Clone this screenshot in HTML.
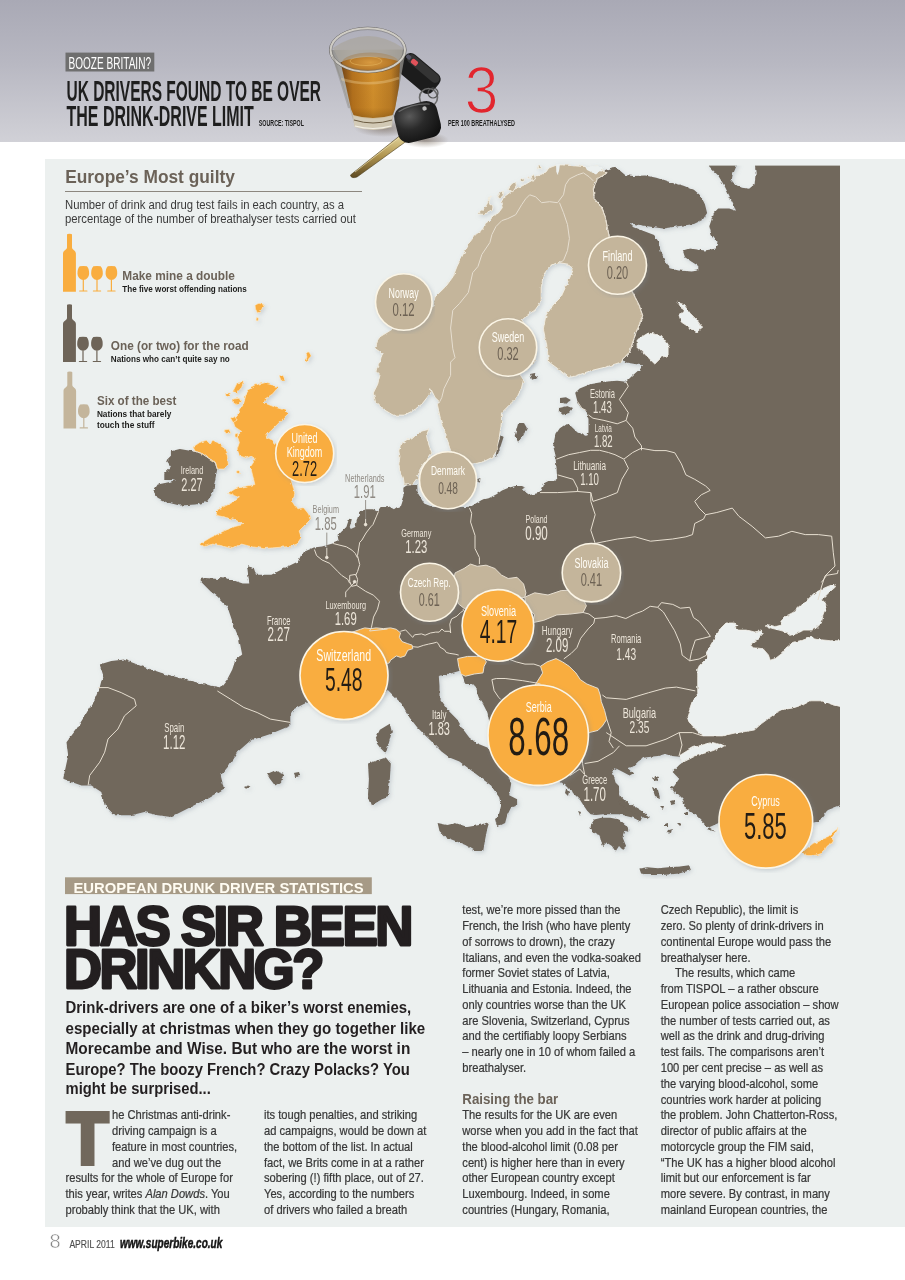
<!DOCTYPE html>
<html><head><meta charset="utf-8"><title>Has sir been drinkng?</title>
<style>
html,body{margin:0;padding:0;background:#ffffff;}
body{width:905px;height:1280px;position:relative;overflow:hidden;}
#hdr{position:absolute;left:0;top:0;width:905px;height:142px;background:linear-gradient(#a9a9b5 0%,#b8b8c2 45%,#d1d1d7 100%);}
#panel{position:absolute;left:45px;top:159px;width:860px;height:1068px;background:#ecf0ef;}
svg{position:absolute;left:0;top:0;}
text{font-family:"Liberation Sans",Arial,sans-serif;}
</style></head><body>
<div id="hdr"></div>
<div id="panel"></div>
<svg width="905" height="1280" viewBox="0 0 905 1280">
<rect x="65.5" y="52.6" width="88.8" height="18.9" fill="#6f6f6f"/>
<text x="68.5" y="68.6" font-size="17.4" textLength="82.5" lengthAdjust="spacingAndGlyphs" fill="#ffffff" >BOOZE BRITAIN?</text>
<text x="66.5" y="101.3" font-size="30.4" font-weight="bold" textLength="254.5" lengthAdjust="spacingAndGlyphs" fill="#1e1e1e" >UK DRIVERS FOUND TO BE OVER</text>
<text x="66.5" y="125.5" font-size="30.4" font-weight="bold" textLength="187.3" lengthAdjust="spacingAndGlyphs" fill="#1e1e1e" >THE DRINK-DRIVE LIMIT</text>
<text x="258.8" y="125.5" font-size="9.6" font-weight="bold" textLength="45.2" lengthAdjust="spacingAndGlyphs" fill="#1e1e1e" >SOURCE: TISPOL</text>
<text x="448" y="125.8" font-size="9.6" font-weight="bold" textLength="67" lengthAdjust="spacingAndGlyphs" fill="#1e1e1e" >PER 100 BREATHALYSED</text>
<defs><linearGradient id="hg" gradientUnits="userSpaceOnUse" x1="0" y1="-113.7" x2="0" y2="28.3"><stop offset="0" stop-color="#a9a9b5"/><stop offset="0.45" stop-color="#b8b8c2"/><stop offset="1" stop-color="#d1d1d7"/></linearGradient></defs>
<text transform="translate(464.8,113.4) scale(0.9,1)" font-size="67.2" fill="#e2262e" stroke="url(#hg)" stroke-width="1.5">3</text>
<g id="map">
<clipPath id="mclip"><rect x="45" y="159" width="795" height="720"/></clipPath>
<filter id="lsh" x="-5%" y="-5%" width="110%" height="110%"><feDropShadow dx="1.6" dy="1.8" stdDeviation="2.2" flood-color="#7f8c99" flood-opacity="0.33"/></filter>
<filter id="rough" x="-2%" y="-2%" width="104%" height="104%"><feTurbulence type="fractalNoise" baseFrequency="0.22" numOctaves="2" seed="3" result="n"/><feDisplacementMap in="SourceGraphic" in2="n" scale="3.2" xChannelSelector="R" yChannelSelector="G" result="d"/><feDropShadow in="d" dx="1.6" dy="1.8" stdDeviation="2.2" flood-color="#7f8c99" flood-opacity="0.33"/></filter>
<g clip-path="url(#mclip)">
<g filter="url(#rough)">
<polygon points="200.7,579.1 205.1,578.0 218.4,579.1 220.6,576.9 229.4,579.1 242.7,583.5 249.3,583.5 247.1,565.9 253.8,568.1 256.0,574.7 271.4,574.7 280.3,570.3 284.7,568.1 298.0,561.4 302.4,552.6 313.9,547.5 322.0,546.5 332.6,543.5 338.7,541.2 337.6,535.7 342.0,531.3 346.4,526.9 348.6,520.2 351.9,519.1 349.7,526.9 350.8,529.1 355.2,526.9 357.5,518.0 359.7,511.4 366.3,509.2 372.9,509.2 377.3,511.4 380.7,507.0 388.4,505.9 393.9,509.2 397.2,507.0 400.0,505.9 401.4,501.8 403.4,495.8 403.4,487.8 407.3,484.9 417.3,484.9 417.5,492.5 424.1,503.5 432.9,506.9 445.0,507.0 460.0,507.0 466.0,507.0 471.0,506.5 476.6,503.1 482.1,499.8 488.7,498.2 496.5,494.3 502.0,490.4 508.6,487.7 515.2,486.0 521.9,486.0 525.7,487.7 523.0,489.3 526.3,492.7 529.6,494.9 535.1,493.8 539.6,492.7 541.8,489.9 544.0,483.3 548.4,481.0 553.9,481.0 557.2,478.8 556.5,468.0 555.4,454.7 553.1,445.9 555.4,434.8 559.8,428.2 566.4,423.8 570.8,426.0 577.5,432.6 586.3,435.9 588.5,432.6 588.5,419.3 586.3,410.5 581.9,408.3 577.5,401.7 575.2,392.8 579.7,388.4 590.7,384.0 604.0,381.8 617.2,380.7 626.1,381.8 632.0,376.0 640.0,369.0 644.0,365.5 635.0,364.0 626.0,362.5 622.9,358.9 629.5,352.2 636.1,332.4 642.7,315.8 639.4,305.8 632.8,292.6 625.0,285.0 609.2,236.5 607.2,226.6 605.2,216.7 601.3,206.7 594.3,198.8 593.3,188.8 597.3,178.9 605.2,169.9 613.2,166.9 619.2,169.9 625.1,174.9 633.1,175.9 645.2,175.5 656.3,177.7 669.6,182.1 682.8,185.4 693.9,189.8 700.5,195.4 704.9,204.2 707.1,213.0 702.7,219.7 693.9,224.1 678.4,226.3 662.9,228.5 647.5,226.3 634.2,224.1 629.8,223.0 632.0,226.3 643.0,230.7 654.1,235.1 658.5,241.8 660.7,250.6 665.1,259.4 669.6,268.3 678.4,270.5 691.7,271.6 698.3,270.5 698.3,266.1 691.7,261.7 685.0,257.2 682.8,250.6 689.4,248.4 704.9,250.6 716.0,248.4 718.2,244.0 711.5,235.1 709.3,226.3 713.8,213.0 718.2,208.6 729.2,208.6 735.9,210.8 733.6,204.2 729.2,195.4 724.8,186.5 718.2,175.5 709.3,166.6 707.1,162.0 738.1,162.0 732.5,175.5 731.4,182.1 740.3,187.6 749.1,188.7 754.6,184.3 755.7,173.3 754.6,162.0 846.0,162.0 846.0,803.0 828.0,810.0 826.4,811.5 821.8,817.7 818.7,821.6 813.3,822.4 808.0,822.5 790.0,822.0 770.0,825.0 745.0,822.0 725.0,820.0 712.0,826.0 705.7,828.7 715.7,831.7 705.7,825.0 695.8,815.1 685.8,808.5 682.5,798.5 672.6,788.6 679.2,778.7 672.6,772.0 679.2,765.0 682.5,762.4 680.0,756.8 672.0,755.9 665.0,754.1 657.9,755.9 650.8,756.8 643.8,757.7 638.5,761.2 633.2,766.5 627.9,768.3 633.2,773.6 629.6,775.4 622.5,771.8 615.5,768.3 612.0,770.1 613.7,775.4 615.5,782.4 619.0,786.0 619.0,791.3 620.8,796.6 624.3,800.1 629.6,805.4 636.7,810.7 642.0,817.8 640.2,821.3 633.2,817.8 626.1,816.0 619.0,814.3 611.9,814.3 603.1,814.3 596.0,815.1 590.7,814.3 587.2,810.7 583.6,805.4 580.1,800.1 576.6,796.6 573.0,793.0 571.3,789.5 567.7,787.7 564.2,784.2 559.8,781.5 552.0,776.0 540.0,768.0 525.0,760.0 510.0,752.0 498.0,747.0 491.9,745.9 490.8,737.0 489.7,723.8 487.5,712.7 483.0,703.9 478.6,697.2 476.4,688.4 472.0,684.0 465.4,684.0 463.1,677.3 459.8,670.7 452.1,672.9 443.3,675.1 438.8,676.2 439.5,686.0 439.5,697.9 449.5,711.8 457.4,719.8 463.4,729.7 469.4,737.7 477.3,743.6 487.3,747.6 493.0,754.0 499.2,763.5 507.2,773.4 511.2,783.4 509.2,795.3 517.1,799.3 517.1,805.3 511.2,807.3 507.2,815.2 505.1,823.1 497.1,827.1 495.1,819.2 499.2,813.2 501.2,805.3 499.2,797.3 495.1,791.4 491.1,785.4 483.2,779.4 475.3,773.4 467.4,767.5 459.4,761.5 449.5,757.5 441.5,751.6 433.6,743.6 425.6,735.7 417.6,727.7 409.7,717.8 401.7,703.8 393.8,695.9 387.8,689.9 375.0,700.0 360.0,705.0 340.0,708.0 320.0,706.0 306.8,702.5 293.6,709.2 290.3,715.8 290.3,725.7 270.4,734.0 250.5,740.6 237.2,752.2 229.0,765.5 220.7,775.4 224.0,788.7 207.4,798.6 194.2,805.3 180.9,811.9 171.0,816.9 157.7,815.2 144.4,811.9 131.2,815.2 114.6,815.2 104.7,805.3 101.3,792.0 91.4,785.4 81.5,785.4 71.5,782.1 63.2,778.8 68.2,755.6 66.5,742.3 76.5,729.0 84.8,715.8 94.7,699.2 99.7,687.6 103.0,674.4 99.7,664.4 111.3,661.1 124.5,659.4 141.1,666.1 161.0,672.7 184.2,679.3 204.1,684.3 220.7,687.6 227.3,679.3 232.3,669.4 235.6,659.4 242.2,654.5 238.9,637.9 233.9,626.3 230.6,616.3 227.3,606.4 217.4,596.5 210.7,591.5 200.8,581.5" fill="#71675b" />
<polygon points="702.4,735.9 695.8,729.3 689.0,722.0 687.1,716.8 690.6,706.1 692.4,700.8 697.7,693.8 697.7,676.1 697.7,669.0 699.4,665.5 706.5,658.4 706.5,651.3 710.1,646.0 715.4,637.2 720.7,628.3 726.0,623.0 733.0,623.0 738.3,624.8 734.8,626.6 738.3,630.1 747.2,630.1 754.3,631.9 761.3,631.0 763.1,633.6 757.8,639.0 750.7,644.3 754.3,647.8 763.0,648.7 768.4,654.9 770.2,660.2 775.5,658.4 782.5,653.1 786.1,647.8 793.2,642.5 803.8,639.8 810.8,637.2 812.6,637.2 814.4,639.0 821.4,639.8 830.3,640.7 846.0,640.7 846.0,707.9 832.0,704.4 821.4,700.8 810.8,700.8 803.8,704.4 793.2,707.9 782.5,709.7 775.5,713.2 768.4,718.5 761.3,723.8 754.3,730.0 745.5,731.5 735.0,733.0 722.3,735.9" fill="#ecf0ef" stroke="#f4f1ea" stroke-width="0.8"/>
<polygon points="782.5,624.8 780.8,621.3 786.1,616.0 793.2,612.4 800.2,605.4 807.3,600.1 814.4,593.0 825.0,587.7 833.8,584.1 835.6,586.8 828.5,593.0 821.4,600.1 826.7,605.4 823.2,614.2 821.4,623.0 816.1,628.3 810.8,630.1 803.8,630.1 796.7,633.6 789.6,635.4 786.1,631.9 779.0,630.1 771.9,628.3 766.6,626.6 768.4,624.8 775.5,626.6" fill="#ecf0ef" stroke="#f4f1ea" stroke-width="0.8"/>
<polygon points="679.2,755.8 692.5,747.5 712.4,742.5 725.6,745.8 712.4,750.8 695.8,755.8 682.5,762.4" fill="#ecf0ef" stroke="#f4f1ea" stroke-width="0.8"/>
<polygon points="637.1,339.8 648.2,333.1 661.4,335.4 668.1,344.2 668.1,355.2 661.4,357.5 654.8,364.1 648.2,357.5 641.5,350.8 637.1,346.4" fill="#ecf0ef" stroke="#f4f1ea" stroke-width="0.8"/>
<polygon points="676.9,302.2 683.5,304.4 690.2,313.3 696.8,319.9 702.3,327.6 696.8,332.0 688.0,326.5 681.3,322.1 679.1,315.5 683.5,311.0 679.1,304.4" fill="#ecf0ef" stroke="#f4f1ea" stroke-width="0.8"/>
<polygon points="554.1,166.0 557.5,164.9 563.5,164.9 575.4,165.9 589.3,166.9 597.3,165.9 603.0,170.0 607.2,172.9 597.3,178.9 593.3,188.8 594.3,198.8 601.3,206.7 605.2,216.7 607.2,226.6 609.2,236.5 612.0,250.0 620.0,270.0 628.0,285.0 632.8,292.6 639.4,305.8 642.7,315.8 636.1,332.4 629.5,352.2 622.9,358.9 621.7,361.9 608.4,366.3 590.7,370.7 575.2,376.2 568.6,377.3 557.6,368.5 548.7,361.9 546.5,344.2 543.3,329.0 546.0,315.0 553.0,305.0 561.0,297.0 566.5,285.0 573.1,270.0 569.4,264.4 557.5,262.4 549.6,266.4 543.4,274.9 541.2,288.2 541.2,301.4 535.0,310.0 528.0,314.7 522.0,320.0 535.0,340.0 536.0,355.0 534.6,362.1 528.0,368.7 519.1,373.1 523.5,379.8 521.3,388.6 516.9,397.5 512.5,401.9 508.1,406.3 501.4,412.9 501.4,424.0 499.2,437.2 497.0,450.5 492.6,457.1 483.8,461.5 474.9,463.8 465.0,464.0 456.0,458.0 450.6,450.5 448.4,443.9 446.2,435.0 441.8,424.0 439.6,415.1 437.3,404.1 439.6,401.9 435.1,397.5 430.7,388.6 430.7,393.0 421.9,404.1 413.0,410.7 404.2,415.1 393.1,415.1 382.1,408.5 375.5,401.9 373.3,393.0 377.7,384.2 379.9,375.4 375.5,370.9 379.9,362.1 382.1,353.3 375.5,348.8 377.7,340.0 380.0,336.8 391.0,330.0 405.0,320.0 420.0,312.0 433.0,305.9 435.0,297.0 446.2,286.0 452.8,277.0 457.2,266.0 463.9,252.8 468.3,244.0 471.8,239.6 475.8,234.3 479.8,231.6 483.8,229.0 485.1,223.7 490.4,219.7 493.0,215.7 498.4,213.0 502.3,207.7 501.0,202.4 503.7,197.1 509.0,193.2 514.3,189.2 520.9,186.5 526.2,183.9 532.8,179.9 535.5,175.9 540.8,174.6 546.1,171.9 548.8,168.0" fill="#c4b59b" stroke="#f3eee2" stroke-width="0.9" stroke-linejoin="round"/>
<polygon points="477.8,213.7 482.4,210.4 486.4,205.1 489.1,199.8 490.4,195.8 489.1,203.8 493.0,206.4 492.4,210.4 487.7,213.0 482.4,214.4" fill="#c4b59b" stroke="#f3eee2" stroke-width="0.9" stroke-linejoin="round"/>
<polygon points="497.7,197.1 501.0,191.8 503.7,191.2 503.0,195.8 499.7,198.5" fill="#c4b59b" stroke="#f3eee2" stroke-width="0.9" stroke-linejoin="round"/>
<polygon points="507.6,189.2 511.6,183.9 515.6,181.2 516.3,186.5 512.9,191.8" fill="#c4b59b" stroke="#f3eee2" stroke-width="0.9" stroke-linejoin="round"/>
<polygon points="520.0,180.0 524.0,178.5 524.5,181.0 521.0,182.0" fill="#c4b59b" stroke="#f3eee2" stroke-width="0.9" stroke-linejoin="round"/>
<polygon points="531.5,176.0 534.0,174.6 535.5,179.0 532.5,181.2" fill="#c4b59b" stroke="#f3eee2" stroke-width="0.9" stroke-linejoin="round"/>
<polygon points="536.8,166.6 540.0,166.0 542.1,168.0 538.0,168.6" fill="#c4b59b" stroke="#f3eee2" stroke-width="0.9" stroke-linejoin="round"/>
<polygon points="527.0,177.5 529.0,176.5 529.5,178.5" fill="#c4b59b" stroke="#f3eee2" stroke-width="0.9" stroke-linejoin="round"/>
<polygon points="556.0,164.0 560.0,164.0 559.0,171.0 557.5,175.0 556.3,171.5" fill="#ecf0ef" />
<polygon points="585.0,166.2 598.0,166.0 604.0,167.2 601.0,170.0 596.0,174.5 592.0,172.5 587.0,170.0" fill="#ecf0ef" />
<polygon points="401.0,443.2 406.6,439.9 412.1,438.8 417.6,433.3 422.0,431.0 428.7,429.4 426.5,435.5 427.6,441.0 429.8,447.6 432.0,453.1 427.6,458.7 423.1,464.2 419.8,469.7 417.6,477.5 414.3,481.9 412.1,484.8 404.4,485.0 403.3,477.5 399.9,470.8 398.8,464.2 399.9,456.5 398.8,450.9" fill="#c4b59b" stroke="#f3eee2" stroke-width="0.9" stroke-linejoin="round"/>
<polygon points="432.0,470.0 445.0,465.0 460.0,468.0 470.0,478.0 466.0,492.0 450.0,496.0 436.0,490.0" fill="#c4b59b" stroke="#f3eee2" stroke-width="0.9" stroke-linejoin="round"/>
<polygon points="170.9,451.3 179.8,449.1 193.0,451.3 201.9,453.5 208.5,458.0 215.1,462.4 217.3,469.0 215.1,480.1 212.9,493.3 206.3,502.2 195.2,504.4 179.8,505.5 166.5,502.2 157.7,497.7 153.3,491.1 157.7,484.5 168.7,482.3 175.4,480.1 164.3,480.1 164.3,473.4 170.9,466.8 166.5,460.2 170.9,455.7" fill="#71675b" />
<polygon points="375.9,737.7 379.9,729.7 389.8,723.7 391.8,731.7 389.8,739.6 385.8,753.5 379.9,747.6 376.9,743.6" fill="#71675b" />
<polygon points="368.0,763.5 385.8,757.5 390.8,763.5 389.8,779.4 387.8,797.3 381.9,799.3 371.9,805.3 368.0,795.3 368.9,779.4" fill="#71675b" />
<polygon points="437.6,823.1 447.5,825.1 455.4,823.1 467.4,827.1 479.3,825.1 489.2,822.1 487.2,829.1 485.2,839.0 483.2,851.0 475.3,851.0 465.4,845.0 455.4,841.0 445.5,837.0 439.5,831.1" fill="#71675b" />
<polygon points="267.0,774.0 275.0,770.5 283.6,774.0 281.0,782.0 275.0,785.4 270.0,779.0" fill="#71675b" />
<polygon points="293.6,773.0 299.0,772.0 300.2,776.0 295.0,777.0" fill="#71675b" />
<polygon points="243.9,787.0 248.0,785.4 250.5,786.5 246.0,788.7" fill="#71675b" />
<polygon points="590.7,824.9 594.3,819.6 601.3,817.8 610.2,817.8 619.0,819.6 626.1,824.9 629.6,830.2 624.3,831.9 622.5,837.2 626.1,846.1 622.5,849.6 619.0,846.1 615.5,851.4 611.9,846.1 606.6,842.5 603.1,846.1 601.3,842.5 599.6,835.5 594.3,831.9 590.7,828.4" fill="#71675b" />
<polygon points="620.0,800.0 628.0,803.0 640.0,810.0 650.0,817.0 647.0,819.0 636.0,814.0 625.0,808.0 619.0,803.0" fill="#71675b" />
<polygon points="655.0,776.0 659.0,777.0 658.0,780.0 654.0,779.0" fill="#71675b" />
<polygon points="671.0,786.0 675.0,787.0 674.0,790.0 670.0,789.0" fill="#71675b" />
<polygon points="668.0,830.0 672.0,829.0 671.0,833.0 667.0,832.0" fill="#71675b" />
<polygon points="677.0,823.0 681.0,823.0 680.0,826.0" fill="#71675b" />
<polygon points="660.0,806.0 664.0,806.0 663.0,809.0" fill="#71675b" />
<polygon points="639.4,868.5 647.3,867.3 657.9,868.2 668.5,867.3 680.0,866.4 689.2,865.2 690.8,870.1 679.2,873.5 662.6,875.1 649.4,875.1 641.1,873.5" fill="#71675b" />
<polygon points="518.0,424.0 524.0,422.9 526.9,428.0 523.0,436.0 518.0,441.7 514.7,436.0" fill="#71675b" />
<polygon points="500.5,435.0 503.6,437.0 500.0,448.0 497.0,457.1 495.9,454.0" fill="#71675b" />
<polygon points="477.1,479.0 480.4,478.0 480.0,482.5 477.5,482.0" fill="#71675b" />
<polygon points="560.0,398.0 566.0,397.2 570.8,400.0 566.0,403.9 560.0,402.0" fill="#71675b" />
<polygon points="559.0,408.0 568.0,406.1 573.0,408.0 569.0,413.0 562.0,414.9 558.7,412.0" fill="#71675b" />
<polygon points="530.0,374.0 535.0,373.0 536.8,378.0 532.0,379.8" fill="#71675b" />
<polygon points="652.0,787.0 658.0,790.0 660.0,798.0 655.0,796.0" fill="#71675b" />
<polygon points="670.0,801.0 674.0,800.0 675.0,804.0 671.0,805.0" fill="#71675b" />
<polygon points="684.0,812.0 688.0,811.0 688.0,815.0 684.0,815.0" fill="#71675b" />
<polygon points="664.0,824.0 668.0,823.0 668.0,827.0 664.0,827.0" fill="#71675b" />
<polygon points="672.0,789.0 676.0,790.0 675.0,793.0" fill="#71675b" />
<polygon points="604.0,788.0 608.0,789.0 607.0,793.0" fill="#71675b" />
<polygon points="652.0,778.0 656.0,778.0 655.0,781.0" fill="#71675b" />
<polygon points="566.0,789.0 569.0,792.0 568.0,796.0 565.0,793.0" fill="#71675b" />
<polygon points="578.0,811.0 581.0,812.0 580.0,815.0" fill="#71675b" />
<polygon points="254.9,385.0 263.8,382.8 272.6,385.0 278.1,387.2 272.6,393.9 266.0,398.3 263.8,402.7 274.8,407.1 285.9,410.4 288.1,413.8 281.4,420.4 274.8,427.0 268.2,433.6 266.0,437.0 272.6,440.3 277.0,444.7 281.4,451.3 285.9,460.2 288.1,471.2 292.5,484.5 294.7,493.3 292.5,502.2 296.9,508.8 303.5,507.7 308.0,513.2 310.2,519.8 303.5,526.5 299.1,530.9 301.3,537.5 296.9,544.1 290.3,546.4 277.0,547.5 263.8,548.6 250.5,546.4 241.7,544.1 232.8,548.6 224.0,546.4 212.9,544.1 204.1,546.4 199.7,544.1 210.7,537.5 224.0,530.9 235.0,526.5 243.9,524.3 235.0,519.8 226.2,517.6 217.3,515.4 215.1,511.0 224.0,506.6 232.8,502.2 239.4,497.7 228.4,493.3 235.0,488.9 243.9,486.7 254.9,484.5 252.7,475.6 250.5,466.8 254.9,460.2 252.7,455.7 246.1,458.0 239.4,455.7 237.2,449.1 239.4,442.5 237.2,435.9 241.7,431.4 235.0,427.0 232.8,420.4 237.2,416.0 239.4,409.3 243.9,402.7 246.1,393.9 250.5,387.2" fill="#f9ad3f" stroke="#fde7c0" stroke-width="0.7" stroke-linejoin="round"/>
<polygon points="193.0,446.9 199.7,442.5 206.3,440.3 210.7,444.7 212.9,440.3 217.3,442.5 224.0,446.9 227.3,455.7 228.4,464.6 224.0,469.0 217.3,469.0 215.1,462.4 208.5,458.0 201.9,453.5 195.2,451.3" fill="#f9ad3f" stroke="#fde7c0" stroke-width="0.7" stroke-linejoin="round"/>
<polygon points="255.0,305.0 259.0,303.3 263.8,304.5 261.0,311.0 257.5,313.0 255.5,309.0" fill="#f9ad3f" stroke="#fde7c0" stroke-width="0.7" stroke-linejoin="round"/>
<polygon points="256.5,317.5 258.5,318.0 258.0,321.0 256.0,320.5" fill="#f9ad3f" stroke="#fde7c0" stroke-width="0.7" stroke-linejoin="round"/>
<polygon points="306.0,352.5 309.0,351.9 311.3,356.0 308.5,359.0 307.5,362.9 305.7,360.5 307.0,357.0" fill="#f9ad3f" stroke="#fde7c0" stroke-width="0.7" stroke-linejoin="round"/>
<polygon points="279.2,375.5 283.0,375.5 285.0,379.5 281.0,380.5" fill="#f9ad3f" stroke="#fde7c0" stroke-width="0.7" stroke-linejoin="round"/>
<polygon points="232.8,391.7 237.2,382.8 243.9,381.7 241.7,387.2 237.2,392.8" fill="#f9ad3f" stroke="#fde7c0" stroke-width="0.7" stroke-linejoin="round"/>
<polygon points="225.5,393.0 229.5,393.0 229.0,396.5 226.0,396.5" fill="#f9ad3f" stroke="#fde7c0" stroke-width="0.7" stroke-linejoin="round"/>
<polygon points="233.0,399.0 239.0,398.3 241.7,402.0 237.0,404.9 233.5,403.0" fill="#f9ad3f" stroke="#fde7c0" stroke-width="0.7" stroke-linejoin="round"/>
<polygon points="230.6,418.0 234.0,416.0 237.2,420.0 233.0,422.6" fill="#f9ad3f" stroke="#fde7c0" stroke-width="0.7" stroke-linejoin="round"/>
<polygon points="224.0,430.0 229.0,429.2 230.6,433.0 226.0,433.6" fill="#f9ad3f" stroke="#fde7c0" stroke-width="0.7" stroke-linejoin="round"/>
<polygon points="235.0,434.0 238.0,433.0 237.5,437.5 235.0,437.0" fill="#f9ad3f" stroke="#fde7c0" stroke-width="0.7" stroke-linejoin="round"/>
<polygon points="236.5,470.0 239.5,469.5 239.5,473.5 236.5,473.0" fill="#f9ad3f" stroke="#fde7c0" stroke-width="0.7" stroke-linejoin="round"/>
<polygon points="802.4,852.2 805.5,849.4 809.4,846.3 813.3,843.3 817.1,841.7 821.8,839.4 826.4,837.8 829.5,835.5 832.6,832.4 835.7,830.1 838.0,828.6 836.5,831.7 834.1,834.7 831.8,837.8 833.4,840.9 831.8,843.3 828.7,844.8 826.4,847.1 824.9,850.2 821.8,853.3 817.1,854.9 812.5,855.6 807.8,855.6 804.7,854.9" fill="#f9ad3f" stroke="#fde7c0" stroke-width="0.7" stroke-linejoin="round"/>
</g>
<rect x="700" y="158" width="141" height="7.6" fill="#ecf0ef"/>
<polygon points="455.1,572.9 464.0,568.5 470.6,564.1 477.2,566.3 486.1,565.2 494.9,568.5 501.5,575.1 508.2,578.5 517.0,577.3 523.6,584.0 525.9,592.8 524.8,597.2 517.0,599.4 508.2,601.7 499.3,603.9 490.5,606.1 479.4,603.9 472.8,608.3 464.0,608.3 458.5,603.9 456.2,597.2 452.9,584.0" fill="#c4b59b" />
<polygon points="524.8,597.2 534.7,592.8 548.0,595.0 561.2,590.6 575.0,590.0 583.1,599.2 586.4,605.8 583.1,612.5 569.8,614.1 556.8,614.9 543.5,620.4 532.5,622.7 534.7,614.9 525.9,605.0" fill="#c4b59b" />
<polygon points="360.4,629.3 364.7,627.9 370.5,628.6 376.2,627.9 383.4,628.6 390.6,627.9 396.3,629.3 400.6,632.9 399.2,637.2 402.1,641.6 407.8,643.7 412.1,645.1 412.8,648.7 407.8,650.2 405.0,655.9 400.6,657.4 396.3,655.9 390.6,660.2 389.1,663.1 375.0,665.0 360.0,662.0 345.0,660.0 335.0,650.0 340.0,640.0 350.0,633.0" fill="#f9ad3f" />
<polygon points="457.6,658.6 467.6,656.4 476.4,656.4 483.0,656.4 486.4,661.9 484.1,666.3 483.0,672.9 474.2,674.0 465.4,676.2 460.9,674.0 458.7,666.3" fill="#f9ad3f" />
<polygon points="540.5,666.3 547.1,661.9 556.0,658.6 562.6,661.9 569.2,666.3 575.9,672.9 580.3,679.6 586.9,684.0 598.0,688.4 600.2,695.0 601.3,701.7 604.6,710.5 606.8,719.3 602.4,726.0 598.0,730.4 589.1,732.6 584.7,723.8 570.0,735.0 550.0,740.0 530.0,725.0 528.0,700.0 535.0,685.0 542.7,672.9" fill="#f9ad3f" />
<polyline points="217.4,691.0 230.6,699.2 243.9,707.5 257.1,712.5 270.4,719.1 290.3,722.4" fill="none" stroke="#e6ded0" stroke-width="1.0" stroke-linejoin="round"/>
<polyline points="98.0,687.6 108.0,687.6 121.2,692.6 134.5,699.2 136.2,705.8 124.5,715.8 117.9,729.0 108.0,739.0 104.7,752.2 99.7,762.2 94.7,768.8 89.7,775.4 88.1,785.4" fill="none" stroke="#e6ded0" stroke-width="1.0" stroke-linejoin="round"/>
<polyline points="314.4,549.5 316.6,555.6 322.1,560.0 329.8,563.4 337.7,571.4 341.7,575.4 347.7,579.3 349.7,583.3" fill="none" stroke="#e6ded0" stroke-width="1.0" stroke-linejoin="round"/>
<polyline points="333.1,543.5 346.4,546.8 351.9,550.1 355.2,553.4 357.5,557.8" fill="none" stroke="#e6ded0" stroke-width="1.0" stroke-linejoin="round"/>
<polyline points="378.5,511.4 376.2,516.9 372.9,524.7 370.7,526.9 366.0,533.0 361.9,540.1 359.7,542.4 358.6,549.0 357.5,555.6 359.7,564.5 357.6,571.4 355.6,575.4" fill="none" stroke="#e6ded0" stroke-width="1.0" stroke-linejoin="round"/>
<polyline points="349.7,575.4 355.6,574.4 357.6,579.3 356.6,585.3 351.7,586.3 349.7,581.3 349.7,575.4" fill="none" stroke="#e6ded0" stroke-width="1.0" stroke-linejoin="round"/>
<polyline points="356.6,585.3 365.6,591.3 373.5,595.2 379.5,601.2 377.5,609.2 373.5,617.1 371.5,627.1 369.6,631.0 387.5,629.0" fill="none" stroke="#e6ded0" stroke-width="1.0" stroke-linejoin="round"/>
<polyline points="469.5,508.0 471.7,513.3 470.6,522.1 475.0,535.4 475.0,548.6 479.4,557.5 479.4,564.1" fill="none" stroke="#e6ded0" stroke-width="1.0" stroke-linejoin="round"/>
<polyline points="400.3,631.3 405.6,629.9 412.7,637.4 414.5,634.8 421.5,633.9 425.1,635.2 430.4,633.0 435.7,632.1 439.2,632.1 441.9,629.0 444.5,631.3 449.8,631.3 450.7,633.0 449.8,624.2 451.6,618.9 456.9,616.2 460.4,612.7 463.5,610.5 463.1,609.1" fill="none" stroke="#e6ded0" stroke-width="1.0" stroke-linejoin="round"/>
<polyline points="412.7,646.7 418.0,647.2 423.3,645.4 428.6,644.1 433.0,643.2 436.6,642.3 438.3,643.6 440.1,647.2 444.5,649.8 446.3,652.5 449.8,653.4 455.1,654.2 458.7,655.1" fill="none" stroke="#e6ded0" stroke-width="1.0" stroke-linejoin="round"/>
<polyline points="485.2,657.5 496.3,657.5 507.3,658.6 516.2,661.9 525.0,664.1 533.9,664.1 540.5,666.3" fill="none" stroke="#e6ded0" stroke-width="1.0" stroke-linejoin="round"/>
<polyline points="491.9,679.6 496.3,678.5 505.1,678.5 514.0,679.6 522.8,680.7 529.4,681.8 536.1,682.9 540.5,684.0" fill="none" stroke="#e6ded0" stroke-width="1.0" stroke-linejoin="round"/>
<polyline points="491.9,679.6 494.1,690.6 498.5,697.2 500.7,699.4" fill="none" stroke="#e6ded0" stroke-width="1.0" stroke-linejoin="round"/>
<polyline points="594.8,618.5 593.8,623.2 588.2,628.9 580.7,638.3 576.9,647.7 571.3,653.3 563.8,658.9" fill="none" stroke="#e6ded0" stroke-width="1.0" stroke-linejoin="round"/>
<polyline points="583.1,612.5 589.0,614.0 594.8,618.5" fill="none" stroke="#e6ded0" stroke-width="1.0" stroke-linejoin="round"/>
<polyline points="595.2,543.4 590.8,530.2 595.2,514.7 590.8,501.4 590.8,492.6" fill="none" stroke="#e6ded0" stroke-width="1.0" stroke-linejoin="round"/>
<polyline points="595.2,543.4 592.0,550.0" fill="none" stroke="#e6ded0" stroke-width="1.0" stroke-linejoin="round"/>
<polyline points="641.7,448.4 654.9,450.6 666.0,450.6 674.8,452.8 681.4,463.9 685.9,474.9 694.7,479.3 705.7,486.0 710.2,490.4 701.3,494.8 694.7,501.4 699.1,508.1 705.7,514.7 703.5,519.1 694.7,523.5 692.5,534.6 685.9,536.8 672.6,539.0 650.5,541.2 635.0,536.8 617.3,539.0 606.3,541.2 595.2,543.4" fill="none" stroke="#e6ded0" stroke-width="1.0" stroke-linejoin="round"/>
<polyline points="705.7,514.7 716.8,512.5 732.3,508.1 738.9,516.3 752.1,526.3 765.4,537.9 778.6,536.2 791.9,531.3 805.2,534.6 818.4,534.6 831.7,536.2 833.3,552.8 835.0,566.1 825.0,576.0 821.7,586.0 818.0,600.0" fill="none" stroke="#e6ded0" stroke-width="1.0" stroke-linejoin="round"/>
<polyline points="624.0,459.4 628.4,468.3 621.8,479.3 617.3,492.6 606.3,497.0 593.0,501.4 590.8,492.6" fill="none" stroke="#e6ded0" stroke-width="1.0" stroke-linejoin="round"/>
<polyline points="540.0,492.6 557.7,492.6 577.6,491.5 590.8,492.6" fill="none" stroke="#e6ded0" stroke-width="1.0" stroke-linejoin="round"/>
<polyline points="557.7,474.9 573.1,479.3 577.6,488.2 577.6,491.5" fill="none" stroke="#e6ded0" stroke-width="1.0" stroke-linejoin="round"/>
<polyline points="556.5,459.1 568.6,454.7 579.7,452.5 590.7,450.3 599.6,450.3 608.4,452.5 615.0,454.7 623.9,459.1 632.7,452.5 641.5,448.1" fill="none" stroke="#e6ded0" stroke-width="1.0" stroke-linejoin="round"/>
<polyline points="577.5,401.7 581.9,408.3 586.3,410.5" fill="none" stroke="#e6ded0" stroke-width="1.0" stroke-linejoin="round"/>
<polyline points="588.5,414.9 592.9,418.2 604.0,420.4 617.2,423.8 626.1,420.4" fill="none" stroke="#e6ded0" stroke-width="1.0" stroke-linejoin="round"/>
<polyline points="626.1,381.8 628.3,386.2 623.9,392.8 619.4,399.4 623.9,406.1 628.3,412.7 626.1,420.4 632.7,428.2 634.9,437.0 641.5,445.9 641.5,450.3" fill="none" stroke="#e6ded0" stroke-width="1.0" stroke-linejoin="round"/>
<polyline points="594.8,618.5 605.1,617.6 616.4,615.7 625.8,618.5 635.2,613.8 642.7,611.0 650.2,606.3 657.7,607.3" fill="none" stroke="#e6ded0" stroke-width="1.0" stroke-linejoin="round"/>
<polyline points="657.7,607.3 663.4,612.0 669.0,621.4 674.7,630.8 680.3,643.9 682.2,655.2 689.7,660.8 699.1,659.0 706.6,655.2" fill="none" stroke="#e6ded0" stroke-width="1.0" stroke-linejoin="round"/>
<polyline points="657.7,607.3 661.5,602.6 672.8,604.4 680.3,608.2 689.7,607.3 693.5,617.6 699.1,621.4 706.6,630.8 710.4,636.4 702.9,638.3 695.3,640.2 691.6,651.4 689.7,660.8" fill="none" stroke="#e6ded0" stroke-width="1.0" stroke-linejoin="round"/>
<polyline points="821.4,582.4 826.7,575.3 837.4,573.5 838.2,570.0" fill="none" stroke="#e6ded0" stroke-width="1.0" stroke-linejoin="round"/>
<polyline points="602.4,695.0 606.3,697.8 626.2,699.4 648.3,692.8 665.3,688.1 676.5,687.1 695.3,690.9" fill="none" stroke="#e6ded0" stroke-width="1.0" stroke-linejoin="round"/>
<polyline points="606.3,732.6 626.2,745.8 646.1,745.8 666.0,739.2 679.2,732.6 692.5,732.6 702.4,735.9" fill="none" stroke="#e6ded0" stroke-width="1.0" stroke-linejoin="round"/>
<polyline points="606.8,719.3 611.2,732.6 609.0,741.4 613.4,748.1" fill="none" stroke="#e6ded0" stroke-width="1.0" stroke-linejoin="round"/>
<polyline points="584.7,763.5 598.0,761.3 613.4,752.5 619.5,745.8" fill="none" stroke="#e6ded0" stroke-width="1.0" stroke-linejoin="round"/>
<polyline points="589.1,732.6 584.7,743.6 582.5,754.7 582.5,763.5 584.7,774.6 579.8,769.0 569.8,775.7" fill="none" stroke="#e6ded0" stroke-width="1.0" stroke-linejoin="round"/>
<polyline points="679.2,732.6 682.0,745.0 679.0,756.0" fill="none" stroke="#e6ded0" stroke-width="1.0" stroke-linejoin="round"/>
<polyline points="607.2,172.9 597.3,178.9 593.3,188.8 594.3,198.8 601.3,206.7 605.2,216.7 607.2,226.6 609.2,236.5 612.0,250.0 620.0,270.0 628.0,285.0 632.8,292.6 639.4,305.8 642.7,315.8 636.1,332.4 629.5,352.2 622.9,358.9" fill="none" stroke="#e6ded0" stroke-width="1.0" stroke-linejoin="round"/>
<polyline points="557.5,202.7 549.6,201.7 541.6,202.7 535.6,196.8 529.7,194.8 525.7,198.8 521.7,204.7 515.7,214.7 507.8,218.6 501.8,220.6 495.9,226.6 491.9,234.6 489.9,242.5 481.9,254.4 478.0,266.4 472.7,272.7 468.3,292.6 459.4,303.6 452.8,310.3 450.6,328.0 452.8,348.8 455.0,357.7 450.6,362.1 450.6,375.4 444.0,388.6 441.8,397.5 439.6,401.9" fill="none" stroke="#e6ded0" stroke-width="1.0" stroke-linejoin="round"/>
<polyline points="557.5,202.7 563.5,194.8 565.5,184.8 569.4,178.9 577.4,174.9 583.4,172.9 589.3,176.9 593.3,180.9" fill="none" stroke="#e6ded0" stroke-width="1.0" stroke-linejoin="round"/>
<polyline points="559.5,202.7 563.5,212.7 567.5,224.6 569.4,238.5 567.5,250.5 563.5,260.4 557.5,264.0" fill="none" stroke="#e6ded0" stroke-width="1.0" stroke-linejoin="round"/>
<polygon points="455.1,572.9 464.0,568.5 470.6,564.1 477.2,566.3 486.1,565.2 494.9,568.5 501.5,575.1 508.2,578.5 517.0,577.3 523.6,584.0 525.9,592.8 524.8,597.2 517.0,599.4 508.2,601.7 499.3,603.9 490.5,606.1 479.4,603.9 472.8,608.3 464.0,608.3 458.5,603.9 456.2,597.2 452.9,584.0" fill="none" stroke="#e6ded0" stroke-width="1"/>
<polygon points="524.8,597.2 534.7,592.8 548.0,595.0 561.2,590.6 575.0,590.0 583.1,599.2 586.4,605.8 583.1,612.5 569.8,614.1 556.8,614.9 543.5,620.4 532.5,622.7 534.7,614.9 525.9,605.0" fill="none" stroke="#e6ded0" stroke-width="1"/>
<polygon points="360.4,629.3 364.7,627.9 370.5,628.6 376.2,627.9 383.4,628.6 390.6,627.9 396.3,629.3 400.6,632.9 399.2,637.2 402.1,641.6 407.8,643.7 412.1,645.1 412.8,648.7 407.8,650.2 405.0,655.9 400.6,657.4 396.3,655.9 390.6,660.2 389.1,663.1 375.0,665.0 360.0,662.0 345.0,660.0 335.0,650.0 340.0,640.0 350.0,633.0" fill="none" stroke="#e6ded0" stroke-width="1"/>
<polygon points="457.6,658.6 467.6,656.4 476.4,656.4 483.0,656.4 486.4,661.9 484.1,666.3 483.0,672.9 474.2,674.0 465.4,676.2 460.9,674.0 458.7,666.3" fill="none" stroke="#e6ded0" stroke-width="1"/>
<polygon points="540.5,666.3 547.1,661.9 556.0,658.6 562.6,661.9 569.2,666.3 575.9,672.9 580.3,679.6 586.9,684.0 598.0,688.4 600.2,695.0 601.3,701.7 604.6,710.5 606.8,719.3 602.4,726.0 598.0,730.4 589.1,732.6 584.7,723.8 570.0,735.0 550.0,740.0 530.0,725.0 528.0,700.0 535.0,685.0 542.7,672.9" fill="none" stroke="#e6ded0" stroke-width="1"/>
<polyline points="193,451 195.2,451.3 201.9,453.5 208.5,458 215.1,462.4 217.3,469" fill="none" stroke="#e6ded0" stroke-width="1"/>
</g>
<circle cx="304.7" cy="453.5" r="29" fill="#f9ad3f" stroke="#fbf5e6" stroke-width="1.6" filter="url(#lsh)"/>
<circle cx="403.8" cy="302" r="28.3" fill="#c4b59b" stroke="#fbf5e6" stroke-width="1.6" filter="url(#lsh)"/>
<circle cx="508" cy="347.5" r="28.7" fill="#c4b59b" stroke="#fbf5e6" stroke-width="1.6" filter="url(#lsh)"/>
<circle cx="617.5" cy="265.2" r="29" fill="#c4b59b" stroke="#fbf5e6" stroke-width="1.6" filter="url(#lsh)"/>
<circle cx="448" cy="480.3" r="28.5" fill="#c4b59b" stroke="#fbf5e6" stroke-width="1.6" filter="url(#lsh)"/>
<circle cx="429.5" cy="592.3" r="29" fill="#c4b59b" stroke="#fbf5e6" stroke-width="1.6" filter="url(#lsh)"/>
<circle cx="591.4" cy="572.7" r="29.2" fill="#c4b59b" stroke="#fbf5e6" stroke-width="1.6" filter="url(#lsh)"/>
<circle cx="497.9" cy="625.4" r="35.8" fill="#f9ad3f" stroke="#fbf5e6" stroke-width="1.6" filter="url(#lsh)"/>
<circle cx="344" cy="675.5" r="44" fill="#f9ad3f" stroke="#fbf5e6" stroke-width="1.6" filter="url(#lsh)"/>
<circle cx="538.2" cy="735.2" r="50.2" fill="#f9ad3f" stroke="#fbf5e6" stroke-width="1.6" filter="url(#lsh)"/>
<circle cx="765.8" cy="821.3" r="46.8" fill="#f9ad3f" stroke="#fbf5e6" stroke-width="1.6" filter="url(#lsh)"/>
<text transform="translate(192,474.1) scale(0.63,1)" x="0" y="0" font-size="11.7" text-anchor="middle" fill="#ede6da" >Ireland</text>
<text transform="translate(192,491.2) scale(0.59,1)" x="0" y="0" font-size="18.6" text-anchor="middle" fill="#ede6da" >2.27</text>
<text transform="translate(364.8,481.5) scale(0.63,1)" x="0" y="0" font-size="11.6" text-anchor="middle" fill="#8f8a83" >Netherlands</text>
<text transform="translate(364.8,497.8) scale(0.59,1)" x="0" y="0" font-size="19.1" text-anchor="middle" fill="#8f8a83" >1.91</text>
<text transform="translate(325.8,513.3) scale(0.63,1)" x="0" y="0" font-size="11.6" text-anchor="middle" fill="#8f8a83" >Belgium</text>
<text transform="translate(325.8,529.6) scale(0.59,1)" x="0" y="0" font-size="19.1" text-anchor="middle" fill="#8f8a83" >1.85</text>
<text transform="translate(345.7,609.2) scale(0.63,1)" x="0" y="0" font-size="11.6" text-anchor="middle" fill="#ede6da" >Luxembourg</text>
<text transform="translate(345.7,625.1) scale(0.59,1)" x="0" y="0" font-size="19.2" text-anchor="middle" fill="#ede6da" >1.69</text>
<text transform="translate(416.3,536.6) scale(0.63,1)" x="0" y="0" font-size="11.6" text-anchor="middle" fill="#ede6da" >Germany</text>
<text transform="translate(416.3,552.5) scale(0.59,1)" x="0" y="0" font-size="19.1" text-anchor="middle" fill="#ede6da" >1.23</text>
<text transform="translate(536.5,523.2) scale(0.63,1)" x="0" y="0" font-size="11.2" text-anchor="middle" fill="#ede6da" >Poland</text>
<text transform="translate(536.5,539.8) scale(0.59,1)" x="0" y="0" font-size="19.7" text-anchor="middle" fill="#ede6da" >0.90</text>
<text transform="translate(602.4,397.7) scale(0.63,1)" x="0" y="0" font-size="11.9" text-anchor="middle" fill="#ede6da" >Estonia</text>
<text transform="translate(602.4,412.7) scale(0.59,1)" x="0" y="0" font-size="16.3" text-anchor="middle" fill="#ede6da" >1.43</text>
<text transform="translate(603.3,431.9) scale(0.63,1)" x="0" y="0" font-size="10.1" text-anchor="middle" fill="#ede6da" >Latvia</text>
<text transform="translate(603.3,447) scale(0.59,1)" x="0" y="0" font-size="16.3" text-anchor="middle" fill="#ede6da" >1.82</text>
<text transform="translate(589.6,470.2) scale(0.63,1)" x="0" y="0" font-size="12.9" text-anchor="middle" fill="#ede6da" >Lithuania</text>
<text transform="translate(589.6,484.5) scale(0.59,1)" x="0" y="0" font-size="16.3" text-anchor="middle" fill="#ede6da" >1.10</text>
<text transform="translate(557.1,635.4) scale(0.63,1)" x="0" y="0" font-size="12.9" text-anchor="middle" fill="#ede6da" >Hungary</text>
<text transform="translate(557.1,651.9) scale(0.59,1)" x="0" y="0" font-size="19.5" text-anchor="middle" fill="#ede6da" >2.09</text>
<text transform="translate(626.2,643.1) scale(0.63,1)" x="0" y="0" font-size="12.0" text-anchor="middle" fill="#ede6da" >Romania</text>
<text transform="translate(626.2,659.7) scale(0.59,1)" x="0" y="0" font-size="17.2" text-anchor="middle" fill="#ede6da" >1.43</text>
<text transform="translate(278.7,624.6) scale(0.63,1)" x="0" y="0" font-size="12.0" text-anchor="middle" fill="#ede6da" >France</text>
<text transform="translate(278.7,641.2) scale(0.59,1)" x="0" y="0" font-size="19.7" text-anchor="middle" fill="#ede6da" >2.27</text>
<text transform="translate(174.3,731.7) scale(0.63,1)" x="0" y="0" font-size="12.5" text-anchor="middle" fill="#ede6da" >Spain</text>
<text transform="translate(174.3,748.9) scale(0.59,1)" x="0" y="0" font-size="19.5" text-anchor="middle" fill="#ede6da" >1.12</text>
<text transform="translate(439.2,718.7) scale(0.63,1)" x="0" y="0" font-size="12.6" text-anchor="middle" fill="#ede6da" >Italy</text>
<text transform="translate(439.2,735.2) scale(0.59,1)" x="0" y="0" font-size="18.6" text-anchor="middle" fill="#ede6da" >1.83</text>
<text transform="translate(639.4,717.7) scale(0.63,1)" x="0" y="0" font-size="14.5" text-anchor="middle" fill="#ede6da" >Bulgaria</text>
<text transform="translate(639.4,732.6) scale(0.59,1)" x="0" y="0" font-size="17.2" text-anchor="middle" fill="#ede6da" >2.35</text>
<text transform="translate(594.7,784) scale(0.63,1)" x="0" y="0" font-size="12.0" text-anchor="middle" fill="#ede6da" >Greece</text>
<text transform="translate(594.7,800.5) scale(0.59,1)" x="0" y="0" font-size="19.5" text-anchor="middle" fill="#ede6da" >1.70</text>
<text transform="translate(304.6,443.2) scale(0.63,1)" x="0" y="0" font-size="14.3" text-anchor="middle" fill="#fffdf6" >United</text>
<text transform="translate(304.6,456.5) scale(0.63,1)" x="0" y="0" font-size="14.3" text-anchor="middle" fill="#fffdf6" >Kingdom</text>
<text transform="translate(304.6,476.4) scale(0.59,1)" x="0" y="0" font-size="21.8" text-anchor="middle" fill="#231c14" >2.72</text>
<text transform="translate(403.6,297.9) scale(0.63,1)" x="0" y="0" font-size="14.1" text-anchor="middle" fill="#fffdf6" >Norway</text>
<text transform="translate(403.6,315.8) scale(0.59,1)" x="0" y="0" font-size="19.2" text-anchor="middle" fill="#6d6254" >0.12</text>
<text transform="translate(508,342.3) scale(0.63,1)" x="0" y="0" font-size="14.3" text-anchor="middle" fill="#fffdf6" >Sweden</text>
<text transform="translate(508,360) scale(0.59,1)" x="0" y="0" font-size="18.7" text-anchor="middle" fill="#6d6254" >0.32</text>
<text transform="translate(617.5,261.1) scale(0.63,1)" x="0" y="0" font-size="14.5" text-anchor="middle" fill="#fffdf6" >Finland</text>
<text transform="translate(617.5,278.7) scale(0.59,1)" x="0" y="0" font-size="18.7" text-anchor="middle" fill="#6d6254" >0.20</text>
<text transform="translate(448,475.2) scale(0.63,1)" x="0" y="0" font-size="13.3" text-anchor="middle" fill="#fffdf6" >Denmark</text>
<text transform="translate(448,493.6) scale(0.59,1)" x="0" y="0" font-size="17.2" text-anchor="middle" fill="#6d6254" >0.48</text>
<text transform="translate(429.2,587.3) scale(0.63,1)" x="0" y="0" font-size="13.0" text-anchor="middle" fill="#fffdf6" >Czech Rep.</text>
<text transform="translate(429.2,606.2) scale(0.59,1)" x="0" y="0" font-size="18.2" text-anchor="middle" fill="#6d6254" >0.61</text>
<text transform="translate(591.4,567.7) scale(0.63,1)" x="0" y="0" font-size="14.3" text-anchor="middle" fill="#fffdf6" >Slovakia</text>
<text transform="translate(591.4,586) scale(0.59,1)" x="0" y="0" font-size="18.7" text-anchor="middle" fill="#6d6254" >0.41</text>
<text transform="translate(498.5,615.5) scale(0.63,1)" x="0" y="0" font-size="14.5" text-anchor="middle" fill="#fffdf6" >Slovenia</text>
<text transform="translate(498.5,643.1) scale(0.59,1)" x="0" y="0" font-size="32.7" text-anchor="middle" fill="#231c14" >4.17</text>
<text transform="translate(343.7,661.3) scale(0.63,1)" x="0" y="0" font-size="16.8" text-anchor="middle" fill="#fffdf6" >Switzerland</text>
<text transform="translate(343.7,691.2) scale(0.59,1)" x="0" y="0" font-size="32.8" text-anchor="middle" fill="#231c14" >5.48</text>
<text transform="translate(538.7,711.6) scale(0.63,1)" x="0" y="0" font-size="14.3" text-anchor="middle" fill="#fffdf6" >Serbia</text>
<text transform="translate(538.7,754.7) scale(0.59,1)" x="0" y="0" font-size="53.0" text-anchor="middle" fill="#231c14" >8.68</text>
<text transform="translate(765.4,805.5) scale(0.63,1)" x="0" y="0" font-size="14.3" text-anchor="middle" fill="#fffdf6" >Cyprus</text>
<text transform="translate(765.4,838.6) scale(0.59,1)" x="0" y="0" font-size="37.3" text-anchor="middle" fill="#231c14" >5.85</text>
<g stroke="#8f8a83" stroke-width="0.9" fill="#8f8a83"><line x1="365.6" y1="500" x2="365.6" y2="519"/><line x1="326.8" y1="532.6" x2="326.8" y2="548"/></g>
<g stroke="#ede6da" stroke-width="0.9" fill="#ede6da"><line x1="365.6" y1="519" x2="365.6" y2="524.6"/><circle cx="365.6" cy="524.6" r="1.3"/><line x1="326.8" y1="548" x2="326.8" y2="557.5"/><circle cx="326.8" cy="557.5" r="1.3"/><polyline points="345.7,597.2 345.7,592 354.6,582.3" fill="none"/><circle cx="354.6" cy="581.7" r="1.3"/></g>
</g>
<text x="65.2" y="183" font-size="18.3" font-weight="bold" textLength="169.7" lengthAdjust="spacingAndGlyphs" fill="#6b6258" >Europe’s Most guilty</text>
<line x1="65" y1="191.5" x2="362" y2="191.5" stroke="#8c877f" stroke-width="1"/>
<text x="65" y="208.9" font-size="12" textLength="279" lengthAdjust="spacingAndGlyphs" fill="#3a3a3a" >Number of drink and drug test fails in each country, as a</text>
<text x="65" y="222.8" font-size="12" textLength="291" lengthAdjust="spacingAndGlyphs" fill="#3a3a3a" >percentage of the number of breathalyser tests carried out</text>
<path d="M67.0,234.4 Q67.0,233.8 69.5,233.8 Q72.0,233.8 72.0,234.4 L72.0,247.4 C72.0,249.9 75.9,249.9 75.9,253.5 L75.9,291.8 L63.0,291.8 L63.0,253.5 C63.0,249.9 67.0,249.9 67.0,247.4 Z" fill="#f9ad3f"/>
<path d="M79.7,266.3 Q83.3,265.7 86.9,266.3 C88.7,267.8 89.1,270.8 89.1,273.3 C89.1,277.3 86.5,279.9 83.3,279.9 C80.1,279.9 77.5,277.3 77.5,273.3 C77.5,270.8 77.9,267.8 79.7,266.3 Z" fill="#f9ad3f"/><rect x="82.7" y="279.4" width="1.2" height="11.7" fill="#f9ad3f"/><rect x="79.1" y="290.5" width="8.4" height="1.1" rx="0.5" fill="#f9ad3f"/>
<path d="M93.4,266.3 Q97.0,265.7 100.6,266.3 C102.4,267.8 102.8,270.8 102.8,273.3 C102.8,277.3 100.2,279.9 97.0,279.9 C93.8,279.9 91.2,277.3 91.2,273.3 C91.2,270.8 91.6,267.8 93.4,266.3 Z" fill="#f9ad3f"/><rect x="96.4" y="279.4" width="1.2" height="11.7" fill="#f9ad3f"/><rect x="92.8" y="290.5" width="8.4" height="1.1" rx="0.5" fill="#f9ad3f"/>
<path d="M107.8,266.3 Q111.4,265.7 115.0,266.3 C116.8,267.8 117.2,270.8 117.2,273.3 C117.2,277.3 114.6,279.9 111.4,279.9 C108.2,279.9 105.6,277.3 105.6,273.3 C105.6,270.8 106.0,267.8 107.8,266.3 Z" fill="#f9ad3f"/><rect x="110.8" y="279.4" width="1.2" height="11.7" fill="#f9ad3f"/><rect x="107.2" y="290.5" width="8.4" height="1.1" rx="0.5" fill="#f9ad3f"/>
<path d="M67.0,304.9 Q67.0,304.3 69.5,304.3 Q72.0,304.3 72.0,304.9 L72.0,317.9 C72.0,320.4 75.9,320.4 75.9,323.9 L75.9,362.0 L63.0,362.0 L63.0,323.9 C63.0,320.4 67.0,320.4 67.0,317.9 Z" fill="#6e6458"/>
<path d="M79.4,337.0 Q83.0,336.4 86.6,337.0 C88.4,338.5 88.8,341.5 88.8,344.0 C88.8,348.0 86.2,350.6 83.0,350.6 C79.8,350.6 77.2,348.0 77.2,344.0 C77.2,341.5 77.6,338.5 79.4,337.0 Z" fill="#6e6458"/><rect x="82.4" y="350.1" width="1.2" height="11.4" fill="#6e6458"/><rect x="78.8" y="360.9" width="8.4" height="1.1" rx="0.5" fill="#6e6458"/>
<path d="M93.3,337.0 Q96.9,336.4 100.5,337.0 C102.3,338.5 102.7,341.5 102.7,344.0 C102.7,348.0 100.1,350.6 96.9,350.6 C93.7,350.6 91.1,348.0 91.1,344.0 C91.1,341.5 91.5,338.5 93.3,337.0 Z" fill="#6e6458"/><rect x="96.3" y="350.1" width="1.2" height="11.4" fill="#6e6458"/><rect x="92.7" y="360.9" width="8.4" height="1.1" rx="0.5" fill="#6e6458"/>
<path d="M67.3,372.2 Q67.3,371.6 69.8,371.6 Q72.3,371.6 72.3,372.2 L72.3,384.9 C72.3,387.4 76.1,387.4 76.1,390.9 L76.1,428.4 L63.5,428.4 L63.5,390.9 C63.5,387.4 67.3,387.4 67.3,384.9 Z" fill="#c4b59b"/>
<path d="M80.2,404.6 Q83.8,404.0 87.4,404.6 C89.2,406.1 89.6,409.1 89.6,411.6 C89.6,415.6 87.0,418.2 83.8,418.2 C80.6,418.2 78.0,415.6 78.0,411.6 C78.0,409.1 78.4,406.1 80.2,404.6 Z" fill="#c4b59b"/><rect x="83.2" y="417.7" width="1.2" height="10.2" fill="#c4b59b"/><rect x="79.6" y="427.3" width="8.4" height="1.1" rx="0.5" fill="#c4b59b"/>
<text x="122.3" y="280" font-size="12.6" font-weight="bold" textLength="112.6" lengthAdjust="spacingAndGlyphs" fill="#6b6258" >Make mine a double</text>
<text x="122.3" y="292" font-size="9.9" font-weight="bold" textLength="124.5" lengthAdjust="spacingAndGlyphs" fill="#1d1d1b" >The five worst offending nations</text>
<text x="110.8" y="350" font-size="12.6" font-weight="bold" textLength="138" lengthAdjust="spacingAndGlyphs" fill="#6b6258" >One (or two) for the road</text>
<text x="110.8" y="362" font-size="9.9" font-weight="bold" textLength="119" lengthAdjust="spacingAndGlyphs" fill="#1d1d1b" >Nations who can’t quite say no</text>
<text x="96.9" y="404.6" font-size="12.6" font-weight="bold" textLength="79.5" lengthAdjust="spacingAndGlyphs" fill="#6b6258" >Six of the best</text>
<text x="96.9" y="416.5" font-size="9.9" font-weight="bold" textLength="74.4" lengthAdjust="spacingAndGlyphs" fill="#1d1d1b" >Nations that barely</text>
<text x="96.9" y="428.4" font-size="9.9" font-weight="bold" textLength="57.7" lengthAdjust="spacingAndGlyphs" fill="#1d1d1b" >touch the stuff</text>
<rect x="65" y="877.3" width="306.8" height="16.8" fill="#a69a86"/>
<text x="73.4" y="892.6" font-size="15.4" font-weight="bold" textLength="290.3" lengthAdjust="spacingAndGlyphs" fill="#fffcf2" >EUROPEAN DRUNK DRIVER STATISTICS</text>
<text x="64" y="944.6" font-size="55.5" font-weight="bold" textLength="347" lengthAdjust="spacingAndGlyphs" fill="#231f20" letter-spacing="-2.5" stroke="#231f20" stroke-width="2.8" stroke-linejoin="round">HAS SIR BEEN</text>
<text x="64" y="987.6" font-size="55.5" font-weight="bold" textLength="258" lengthAdjust="spacingAndGlyphs" fill="#231f20" letter-spacing="-2.5" stroke="#231f20" stroke-width="2.8" stroke-linejoin="round">DRINKNG?</text>
<text x="65.5" y="1012.8" font-size="17.1" font-weight="bold" textLength="345.7" lengthAdjust="spacingAndGlyphs" fill="#231f20" >Drink-drivers are one of a biker’s worst enemies,</text>
<text x="65.5" y="1034.2" font-size="17.1" font-weight="bold" textLength="359.7" lengthAdjust="spacingAndGlyphs" fill="#231f20" >especially at christmas when they go together like</text>
<text x="65.5" y="1054.1" font-size="17.1" font-weight="bold" textLength="344.8" lengthAdjust="spacingAndGlyphs" fill="#231f20" >Morecambe and Wise. But who are the worst in</text>
<text x="65.5" y="1075.1" font-size="17.1" font-weight="bold" textLength="344.3" lengthAdjust="spacingAndGlyphs" fill="#231f20" >Europe? The boozy French? Crazy Polacks? You</text>
<text x="65.5" y="1093.9" font-size="17.1" font-weight="bold" textLength="145.3" lengthAdjust="spacingAndGlyphs" fill="#231f20" >might be surprised...</text>
<text transform="translate(66.8,1164.4) scale(0.92,1)" font-size="74.3" font-weight="bold" fill="#71685c" stroke="#71685c" stroke-width="4.2" stroke-linejoin="miter">T</text>
<text transform="translate(112,1119.31) scale(0.93,1)" x="0" y="0" font-size="12" fill="#383838" stroke="#383838" stroke-width="0.22">he Christmas anti-drink-</text>
<text transform="translate(112,1135.08) scale(0.93,1)" x="0" y="0" font-size="12" fill="#383838" stroke="#383838" stroke-width="0.22">driving campaign is a</text>
<text transform="translate(112,1150.85) scale(0.93,1)" x="0" y="0" font-size="12" fill="#383838" stroke="#383838" stroke-width="0.22">feature in most countries,</text>
<text transform="translate(112,1166.62) scale(0.93,1)" x="0" y="0" font-size="12" fill="#383838" stroke="#383838" stroke-width="0.22">and we’ve dug out the</text>
<text transform="translate(65.5,1182.39) scale(0.93,1)" x="0" y="0" font-size="12" fill="#383838" stroke="#383838" stroke-width="0.22">results for the whole of Europe for</text>
<text transform="translate(65.5,1198.16) scale(0.93,1)" x="0" y="0" font-size="12" fill="#383838" stroke="#383838" stroke-width="0.22">this year, writes <tspan font-style="italic">Alan Dowds</tspan>. You</text>
<text transform="translate(65.5,1213.93) scale(0.93,1)" x="0" y="0" font-size="12" fill="#383838" stroke="#383838" stroke-width="0.22">probably think that the UK, with</text>
<text transform="translate(264,1119.31) scale(0.93,1)" x="0" y="0" font-size="12" fill="#383838" stroke="#383838" stroke-width="0.22">its tough penalties, and striking</text>
<text transform="translate(264,1135.08) scale(0.93,1)" x="0" y="0" font-size="12" fill="#383838" stroke="#383838" stroke-width="0.22">ad campaigns, would be down at</text>
<text transform="translate(264,1150.85) scale(0.93,1)" x="0" y="0" font-size="12" fill="#383838" stroke="#383838" stroke-width="0.22">the bottom of the list. In actual</text>
<text transform="translate(264,1166.62) scale(0.93,1)" x="0" y="0" font-size="12" fill="#383838" stroke="#383838" stroke-width="0.22">fact, we Brits come in at a rather</text>
<text transform="translate(264,1182.39) scale(0.93,1)" x="0" y="0" font-size="12" fill="#383838" stroke="#383838" stroke-width="0.22">sobering (!) fifth place, out of 27.</text>
<text transform="translate(264,1198.16) scale(0.93,1)" x="0" y="0" font-size="12" fill="#383838" stroke="#383838" stroke-width="0.22">Yes, according to the numbers</text>
<text transform="translate(264,1213.93) scale(0.93,1)" x="0" y="0" font-size="12" fill="#383838" stroke="#383838" stroke-width="0.22">of drivers who failed a breath</text>
<text transform="translate(462.3,914.3) scale(0.93,1)" x="0" y="0" font-size="12" fill="#383838" stroke="#383838" stroke-width="0.22">test, we’re more pissed than the</text>
<text transform="translate(462.3,930.07) scale(0.93,1)" x="0" y="0" font-size="12" fill="#383838" stroke="#383838" stroke-width="0.22">French, the Irish (who have plenty</text>
<text transform="translate(462.3,945.84) scale(0.93,1)" x="0" y="0" font-size="12" fill="#383838" stroke="#383838" stroke-width="0.22">of sorrows to drown), the crazy</text>
<text transform="translate(462.3,961.61) scale(0.93,1)" x="0" y="0" font-size="12" fill="#383838" stroke="#383838" stroke-width="0.22">Italians, and even the vodka-soaked</text>
<text transform="translate(462.3,977.38) scale(0.93,1)" x="0" y="0" font-size="12" fill="#383838" stroke="#383838" stroke-width="0.22">former Soviet states of Latvia,</text>
<text transform="translate(462.3,993.15) scale(0.93,1)" x="0" y="0" font-size="12" fill="#383838" stroke="#383838" stroke-width="0.22">Lithuania and Estonia. Indeed, the</text>
<text transform="translate(462.3,1008.92) scale(0.93,1)" x="0" y="0" font-size="12" fill="#383838" stroke="#383838" stroke-width="0.22">only countries worse than the UK</text>
<text transform="translate(462.3,1024.69) scale(0.93,1)" x="0" y="0" font-size="12" fill="#383838" stroke="#383838" stroke-width="0.22">are Slovenia, Switzerland, Cyprus</text>
<text transform="translate(462.3,1040.46) scale(0.93,1)" x="0" y="0" font-size="12" fill="#383838" stroke="#383838" stroke-width="0.22">and the certifiably loopy Serbians</text>
<text transform="translate(462.3,1056.23) scale(0.93,1)" x="0" y="0" font-size="12" fill="#383838" stroke="#383838" stroke-width="0.22">– nearly one in 10 of whom failed a</text>
<text transform="translate(462.3,1072.0) scale(0.93,1)" x="0" y="0" font-size="12" fill="#383838" stroke="#383838" stroke-width="0.22">breathalyser.</text>
<text transform="translate(462.3,1119.31) scale(0.93,1)" x="0" y="0" font-size="12" fill="#383838" stroke="#383838" stroke-width="0.22">The results for the UK are even</text>
<text transform="translate(462.3,1135.08) scale(0.93,1)" x="0" y="0" font-size="12" fill="#383838" stroke="#383838" stroke-width="0.22">worse when you add in the fact that</text>
<text transform="translate(462.3,1150.85) scale(0.93,1)" x="0" y="0" font-size="12" fill="#383838" stroke="#383838" stroke-width="0.22">the blood-alcohol limit (0.08 per</text>
<text transform="translate(462.3,1166.62) scale(0.93,1)" x="0" y="0" font-size="12" fill="#383838" stroke="#383838" stroke-width="0.22">cent) is higher here than in every</text>
<text transform="translate(462.3,1182.39) scale(0.93,1)" x="0" y="0" font-size="12" fill="#383838" stroke="#383838" stroke-width="0.22">other European country except</text>
<text transform="translate(462.3,1198.16) scale(0.93,1)" x="0" y="0" font-size="12" fill="#383838" stroke="#383838" stroke-width="0.22">Luxembourg. Indeed, in some</text>
<text transform="translate(462.3,1213.93) scale(0.93,1)" x="0" y="0" font-size="12" fill="#383838" stroke="#383838" stroke-width="0.22">countries (Hungary, Romania,</text>
<text x="462.3" y="1103.5" font-size="14.5" font-weight="bold" textLength="96" lengthAdjust="spacingAndGlyphs" fill="#6b6258" >Raising the bar</text>
<text transform="translate(660.7,914.3) scale(0.93,1)" x="0" y="0" font-size="12" fill="#383838" stroke="#383838" stroke-width="0.22">Czech Republic), the limit is</text>
<text transform="translate(660.7,930.07) scale(0.93,1)" x="0" y="0" font-size="12" fill="#383838" stroke="#383838" stroke-width="0.22">zero. So plenty of drink-drivers in</text>
<text transform="translate(660.7,945.84) scale(0.93,1)" x="0" y="0" font-size="12" fill="#383838" stroke="#383838" stroke-width="0.22">continental Europe would pass the</text>
<text transform="translate(660.7,961.61) scale(0.93,1)" x="0" y="0" font-size="12" fill="#383838" stroke="#383838" stroke-width="0.22">breathalyser here.</text>
<text transform="translate(675,977.38) scale(0.93,1)" x="0" y="0" font-size="12" fill="#383838" stroke="#383838" stroke-width="0.22">The results, which came</text>
<text transform="translate(660.7,993.15) scale(0.93,1)" x="0" y="0" font-size="12" fill="#383838" stroke="#383838" stroke-width="0.22">from TISPOL – a rather obscure</text>
<text transform="translate(660.7,1008.92) scale(0.93,1)" x="0" y="0" font-size="12" fill="#383838" stroke="#383838" stroke-width="0.22">European police association – show</text>
<text transform="translate(660.7,1024.69) scale(0.93,1)" x="0" y="0" font-size="12" fill="#383838" stroke="#383838" stroke-width="0.22">the number of tests carried out, as</text>
<text transform="translate(660.7,1040.46) scale(0.93,1)" x="0" y="0" font-size="12" fill="#383838" stroke="#383838" stroke-width="0.22">well as the drink and drug-driving</text>
<text transform="translate(660.7,1056.23) scale(0.93,1)" x="0" y="0" font-size="12" fill="#383838" stroke="#383838" stroke-width="0.22">test fails. The comparisons aren’t</text>
<text transform="translate(660.7,1072.0) scale(0.93,1)" x="0" y="0" font-size="12" fill="#383838" stroke="#383838" stroke-width="0.22">100 per cent precise – as well as</text>
<text transform="translate(660.7,1087.77) scale(0.93,1)" x="0" y="0" font-size="12" fill="#383838" stroke="#383838" stroke-width="0.22">the varying blood-alcohol, some</text>
<text transform="translate(660.7,1103.54) scale(0.93,1)" x="0" y="0" font-size="12" fill="#383838" stroke="#383838" stroke-width="0.22">countries work harder at policing</text>
<text transform="translate(660.7,1119.31) scale(0.93,1)" x="0" y="0" font-size="12" fill="#383838" stroke="#383838" stroke-width="0.22">the problem. John Chatterton-Ross,</text>
<text transform="translate(660.7,1135.08) scale(0.93,1)" x="0" y="0" font-size="12" fill="#383838" stroke="#383838" stroke-width="0.22">director of public affairs at the</text>
<text transform="translate(660.7,1150.85) scale(0.93,1)" x="0" y="0" font-size="12" fill="#383838" stroke="#383838" stroke-width="0.22">motorcycle group the FIM said,</text>
<text transform="translate(660.7,1166.62) scale(0.93,1)" x="0" y="0" font-size="12" fill="#383838" stroke="#383838" stroke-width="0.22">“The UK has a higher blood alcohol</text>
<text transform="translate(660.7,1182.39) scale(0.93,1)" x="0" y="0" font-size="12" fill="#383838" stroke="#383838" stroke-width="0.22">limit but our enforcement is far</text>
<text transform="translate(660.7,1198.16) scale(0.93,1)" x="0" y="0" font-size="12" fill="#383838" stroke="#383838" stroke-width="0.22">more severe. By contrast, in many</text>
<text transform="translate(660.7,1213.93) scale(0.93,1)" x="0" y="0" font-size="12" fill="#383838" stroke="#383838" stroke-width="0.22">mainland European countries, the</text>
<text x="49.4" y="1247.8" font-size="20.3" textLength="11.2" lengthAdjust="spacingAndGlyphs" fill="#858585" stroke="#ffffff" stroke-width="0.5">8</text>
<text x="69.4" y="1247.8" font-size="11.3" textLength="45.3" lengthAdjust="spacingAndGlyphs" fill="#4d4d4d" stroke="#4d4d4d" stroke-width="0.15">APRIL 2011</text>
<text x="120" y="1247.8" font-size="14" font-weight="bold" font-style="italic" textLength="102.3" lengthAdjust="spacingAndGlyphs" fill="#151515" stroke="#151515" stroke-width="0.5">www.superbike.co.uk</text>
<defs>
<linearGradient id="liq" x1="0" x2="1" y1="0" y2="0">
<stop offset="0" stop-color="#6e4216"/><stop offset="0.2" stop-color="#b8741e"/><stop offset="0.55" stop-color="#d8942e"/><stop offset="0.85" stop-color="#c08026"/><stop offset="1" stop-color="#86581f"/>
</linearGradient>
<linearGradient id="liqv" x1="0" x2="0" y1="0" y2="1">
<stop offset="0" stop-color="#000" stop-opacity="0"/><stop offset="0.8" stop-color="#5a3000" stop-opacity="0.1"/><stop offset="1" stop-color="#3a2000" stop-opacity="0.35"/>
</linearGradient>
<radialGradient id="surf" cx="0.5" cy="0.5" r="0.6">
<stop offset="0" stop-color="#d89a40"/><stop offset="0.6" stop-color="#b87a2a"/><stop offset="1" stop-color="#8a5a22"/>
</radialGradient>
<linearGradient id="glassw" x1="0" x2="1" y1="0" y2="0">
<stop offset="0" stop-color="#8a8a86"/><stop offset="0.3" stop-color="#b5b2aa"/><stop offset="0.7" stop-color="#aaa69e"/><stop offset="1" stop-color="#7e7c78"/>
</linearGradient>
<linearGradient id="blade" x1="0" x2="0" y1="0" y2="1">
<stop offset="0" stop-color="#e6d8a0"/><stop offset="0.5" stop-color="#b09550"/><stop offset="1" stop-color="#5e4a22"/>
</linearGradient>
<radialGradient id="keyh" cx="0.35" cy="0.3" r="0.8">
<stop offset="0" stop-color="#5a5a5a"/><stop offset="0.45" stop-color="#2a2a2a"/><stop offset="1" stop-color="#111"/>
</radialGradient>
<radialGradient id="shad" cx="0.5" cy="0.5" r="0.5">
<stop offset="0" stop-color="#6a5a4a" stop-opacity="0.55"/><stop offset="1" stop-color="#6a5a4a" stop-opacity="0"/>
</radialGradient>
<filter id="blur1" x="-20%" y="-20%" width="140%" height="140%"><feGaussianBlur stdDeviation="2.5"/></filter>
</defs>
<g id="glass">
<!-- shadows -->
<ellipse cx="384" cy="128" rx="30" ry="9" fill="url(#shad)"/>
<ellipse cx="425" cy="140" rx="24" ry="8" fill="url(#shad)"/>
<!-- key fob (behind) -->
<g transform="translate(419,73.5) rotate(40)">
<rect x="-22" y="-12" width="44" height="24" rx="7" fill="#1c1c1c"/>
<rect x="-20" y="-11" width="40" height="9" rx="5" fill="#3e3e3e" opacity="0.7"/>
<rect x="-14" y="-8.5" width="7" height="5" rx="1.5" fill="#e0525a" transform="rotate(-2)"/>
<rect x="-21" y="-8" width="5" height="4" rx="1.2" fill="#556"/>
</g>
<!-- rings -->
<circle cx="428.5" cy="97.5" r="9" fill="none" stroke="#6a6a6a" stroke-width="1.6"/>
<circle cx="433" cy="93" r="5" fill="none" stroke="#555" stroke-width="1.2"/>
<!-- key blade -->
<path d="M402,134 L408,140 L357,177 Q351,179 350.5,175 Z" fill="url(#blade)" stroke="#4a3a1a" stroke-width="0.6"/>
<path d="M400,137 L355,172" stroke="#f0e6b8" stroke-width="0.8" opacity="0.8"/>
<!-- key head -->
<g transform="translate(417.5,121.5) rotate(-14)">
<rect x="-22" y="-18" width="44" height="37" rx="11" fill="url(#keyh)"/>
<path d="M-16,-14 Q0,-19 16,-14" stroke="#8a8a8a" stroke-width="1.2" fill="none" opacity="0.6"/>
<circle cx="10" cy="-11" r="2.2" fill="#bdbdbd"/>
</g>
<!-- glass body -->
<path d="M329.5,50 L342.4,84.6 L349.9,109.5 L354.8,126 Q373,133 391.6,126 L394.6,109.5 L399.6,84.6 L406,49.5 Z" fill="url(#glassw)" opacity="0.85"/>
<!-- liquid -->
<path d="M340.5,62 L346,86 L351,109 L354,116 Q373,122 392,116 L395,109 L399,86 L400,62 Z" fill="url(#liq)"/>
<path d="M340.5,62 L346,86 L351,109 L354,116 Q373,122 392,116 L395,109 L399,86 L400,62 Z" fill="url(#liqv)"/>
<ellipse cx="370.5" cy="62.5" rx="28.5" ry="10" fill="url(#surf)"/>
<ellipse cx="366" cy="61" rx="16" ry="4.5" fill="none" stroke="#e8b860" stroke-width="0.8" opacity="0.7"/>
<!-- base -->
<path d="M353,115 Q373,121 393,115 L392,127 Q373,133 354.5,127 Z" fill="#d8cfb8" opacity="0.85"/>
<path d="M354,120 Q373,126 392,120" stroke="#6a5a40" stroke-width="1" fill="none"/>
<path d="M355,126 Q373,131 391,126" stroke="#f2efe6" stroke-width="1.2" fill="none"/>
<!-- inner back wall above liquid -->
<path d="M333,48 Q368,24 403,48 L401,62 Q370,52 340,62 Z" fill="#a9a59d" opacity="0.7"/>
<!-- rim -->
<ellipse cx="367.8" cy="50" rx="38.4" ry="22.8" fill="none" stroke="#5f5d59" stroke-width="0.9" opacity="0.9"/>
<ellipse cx="367.8" cy="50" rx="37.2" ry="21.7" fill="none" stroke="#cfccc4" stroke-width="2"/>
<ellipse cx="367.8" cy="50" rx="35.8" ry="20.4" fill="none" stroke="#6f6d69" stroke-width="0.7" opacity="0.7"/>
<path d="M341,79 Q370,88 399,78" stroke="#f0d8a0" stroke-width="2.5" fill="none" opacity="0.35"/>
<path d="M333,56 L343,88 L349,108" stroke="#8e8c88" stroke-width="2" fill="none" opacity="0.5"/>
</g>

</svg>
</body></html>
